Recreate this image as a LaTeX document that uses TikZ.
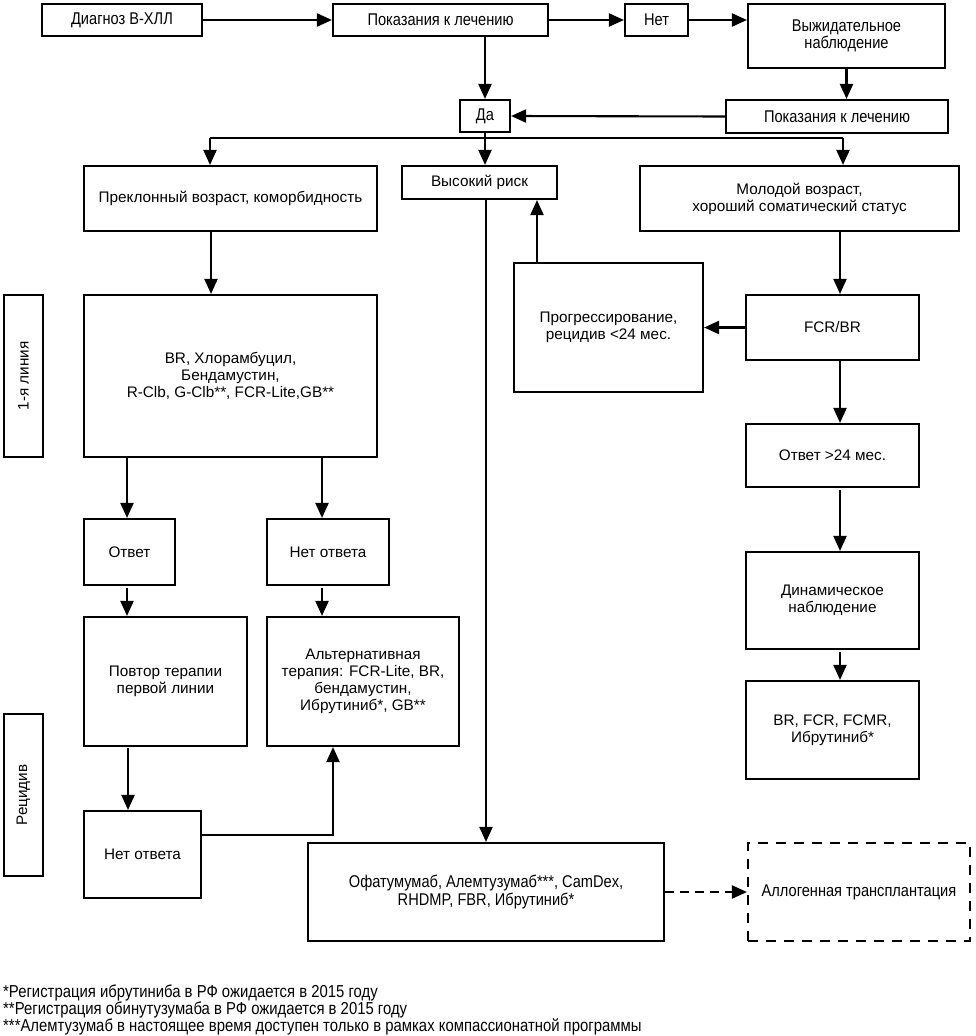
\documentclass[tikz,border=0pt]{standalone}
\usepackage{fontspec}
\setmainfont{Liberation Sans}
\newfontfamily\condf[FakeStretch=0.86]{Liberation Sans}
\usetikzlibrary{arrows.meta}
\tikzset{
  box/.style={draw, line width=2.1pt, inner sep=0pt, align=center, font=\fontsize{15.3}{17}\selectfont},
  cbox/.style={box, font=\condf\fontsize{17}{17.5}\selectfont},
  dbox/.style={cbox, dash pattern=on 10pt off 8pt},
  arr/.style={line width=2.1pt, -{Triangle[length=15pt,width=13pt]}},
  ln/.style={line width=2.1pt},
  darr/.style={arr, dash pattern=on 9pt off 6pt},
  foot/.style={anchor=west, inner sep=0pt, font=\condf\fontsize{17.3}{17}\selectfont}
}
\begin{document}
\begin{tikzpicture}[x=1pt,y=-1pt]
\useasboundingbox (0,0) rectangle (975,1036);
% top row
\node[cbox, minimum width=160, minimum height=32] (diag) at (122,20) {Диагноз В-ХЛЛ};
\node[cbox, minimum width=215, minimum height=32] (ind1) at (440.5,20) {Показания к лечению};
\node[cbox, minimum width=63, minimum height=32] (net) at (656.5,20) {Нет};
\node[cbox, minimum width=197, minimum height=64] (wait) at (846.5,36) {Выжидательное\\наблюдение};
\node[cbox, minimum width=50, minimum height=32] (da) at (485,116) {Да};
\node[cbox, minimum width=222, minimum height=33] (ind2) at (837,116.5) {Показания к лечению};
% third row
\node[box, minimum width=293, minimum height=65] (old) at (230.5,198.5) {Преклонный возраст, коморбидность};
\node[box, minimum width=155, minimum height=33] (high) at (479.5,182.5) {Высокий риск};
\node[box, minimum width=319, minimum height=65] (young) at (799.5,198.5) {Молодой возраст,\\хороший соматический статус};
% left column
\node[box, minimum width=293, minimum height=162] (br1) at (230.5,376) {BR, Хлорамбуцил,\\Бендамустин,\\R-Clb, G-Clb**, FCR-Lite,GB**};
\node[box, minimum width=39, minimum height=162] (line1) at (23.5,376) {};
\node[rotate=90, font=\fontsize{15.3}{17}\selectfont] (line1t) at (line1.center) {1-я линия};
\node[box, minimum width=91, minimum height=66] (otv) at (129.5,552) {Ответ};
\node[box, minimum width=122, minimum height=66] (noresp) at (328,552) {Нет ответа};
\node[box, minimum width=163, minimum height=129] (rep) at (165.5,681.5) {Повтор терапии\\первой линии};
\node[box, minimum width=192, minimum height=129] (alt) at (363,681.5) {Альтернативная\\терапия: FCR-Lite, BR,\\бендамустин,\\Ибрутиниб*, GB**};
\node[box, minimum width=39, minimum height=162] (relapse) at (23.5,795) {};
\node[rotate=90, font=\fontsize{15.3}{17}\selectfont] (relapset) at (relapse.center) {Рецидив};
\node[box, minimum width=117, minimum height=87] (noresp2) at (142.5,854.5) {Нет ответа};
% right column
\node[box, minimum width=189, minimum height=129] (prog) at (608.5,327.5) {Прогрессирование,\\рецидив <24 мес.};
\node[box, minimum width=173, minimum height=65] (fcr) at (832.5,327.5) {FCR/BR};
\node[box, minimum width=173, minimum height=63] (resp24) at (832.5,455.5) {Ответ >24 мес.};
\node[box, minimum width=173, minimum height=97] (dyn) at (832.5,600.5) {Динамическое\\наблюдение};
\node[box, minimum width=173, minimum height=98] (brfcr) at (832.5,730) {BR, FCR, FCMR,\\Ибрутиниб*};
% bottom
\node[cbox, minimum width=356, minimum height=98] (ofa) at (486,892) {Офатумумаб, Алемтузумаб***, CamDex,\\RHDMP, FBR, Ибрутиниб*};
\node[dbox, minimum width=222, minimum height=98] (allo) at (859,892) {Аллогенная трансплантация};
% footnotes
\node[foot] (f1) at (3,993) {*Регистрация ибрутиниба в РФ ожидается в 2015 году};
\node[foot] (f2) at (3,1010) {**Регистрация обинутузумаба в РФ ожидается в 2015 году};
\node[foot] (f3) at (3,1027) {***Алемтузумаб в настоящее время доступен только в рамках компассионатной программы};
% connectors
\draw[arr] (diag.east) -- (ind1.west);
\draw[arr] (ind1.east) -- (net.west);
\draw[arr] (net.east) -- (wait.west |- net.east);
\draw[arr] (da.north |- ind1.south) -- (da.north);
\draw[arr] (wait.south) -- (wait.south |- ind2.north);
\draw[arr] (ind2.west) -- (da.east);
\coordinate (bj) at (485,138);
\coordinate (bl) at (210,138);
\coordinate (bR) at (843,138);
\draw[ln] (da.south) -- (bj);
\draw[ln] (bl) -- (bR);
\draw[arr] (bl) -- (bl |- old.north);
\draw[arr] (bj) -- (bj |- high.north);
\draw[arr] (bR) -- (bR |- young.north);
\coordinate (c1) at (211,231);
\draw[arr] (c1) -- (c1 |- br1.north);
\coordinate (hx) at (486,199);
\draw[arr] (hx) -- (ofa.north);
\coordinate (px) at (537,263);
\draw[arr] (px) -- (px |- high.south);
\coordinate (yx) at (840,231);
\draw[arr] (yx) -- (yx |- fcr.north);
\draw[arr] (fcr.west) -- (prog.east |- fcr.west);
\coordinate (fx) at (840,360);
\draw[arr] (fx) -- (fx |- resp24.north);
\coordinate (rx) at (840,490);
\draw[arr] (rx) -- (rx |- dyn.north);
\coordinate (dx) at (840,652);
\draw[arr] (dx) -- (dx |- brfcr.north);
\coordinate (o1) at (127,457);
\coordinate (o2) at (322,457);
\draw[arr] (o1) -- (o1 |- otv.north);
\draw[arr] (o2) -- (o2 |- noresp.north);
\coordinate (o3) at (127,588);
\coordinate (o4) at (322,588);
\draw[arr] (o3) -- (o3 |- rep.north);
\draw[arr] (o4) -- (o4 |- alt.north);
\coordinate (o5) at (128,748);
\draw[arr] (o5) -- (o5 |- noresp2.north);
\coordinate (nr) at (201,835);
\coordinate (nrc) at (333,835);
\draw[arr] (nr) -- (nrc) -- (nrc |- alt.south);
\draw[darr] (ofa.east) -- (allo.west);
\end{tikzpicture}
\end{document}
